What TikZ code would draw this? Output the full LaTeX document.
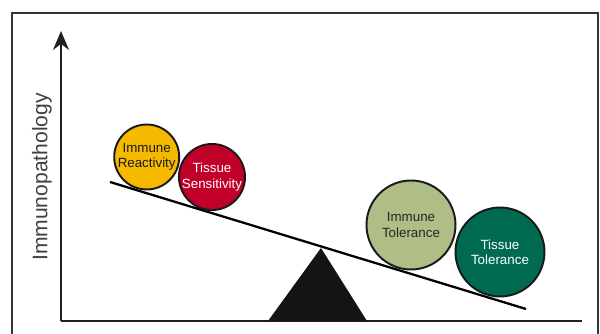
\documentclass[tikz,border=0pt]{standalone}
\usepackage{fontspec}
\setmainfont{Liberation Sans}
\usepackage{xcolor}
\usetikzlibrary{arrows.meta,positioning}

\definecolor{reactyellow}{HTML}{F5BA00}
\definecolor{sensred}{HTML}{C10029}
\definecolor{tolgreen}{HTML}{AEBE86}
\definecolor{tisgreen}{HTML}{006B50}

\begin{document}
\begin{tikzpicture}[x=0.02cm, y=-0.02cm,
    ball/.style={draw=black!90, line width=1.1pt, circle, inner sep=0pt, align=center, font=\fontsize{7.6}{8.8}\selectfont},
    axis/.style={black!88, line width=1pt}]
                \useasboundingbox (0,0) rectangle (600,334);
                \clip (0,0) rectangle (600,334);

                % Frame
                \draw[black!80, line width=1.2pt] (12,13) rectangle (598,360);

                % Axes
                \coordinate (o) at (61,321);
                \coordinate (ytop) at (61,31);
                \coordinate (xend) at (582,321);
                \draw[axis, -{Stealth[length=3.8mm, width=3.2mm]}] (o) -- (ytop);
                \draw[axis] (o) -- (xend);
                \node[rotate=90, font=\fontsize{12}{14}\selectfont, text=black!75] (ylab) at (42,177) {Immunopathology};

                % Fulcrum
                \coordinate (fl) at (268,321);
                \coordinate (ft) at (321,248);
                \coordinate (fr) at (367,321);
                \fill[black!92] (fl) -- (ft) -- (fr) -- cycle;

                % Beam
                \coordinate (bl) at (110,182);
                \coordinate (br) at (526,309);
                \draw[line width=1.3pt] (bl) -- (br);

                % Left side
                \node[ball, fill=reactyellow, minimum size=1.30cm, text=black!90] (react) at (146.7,157) {Immune\\Reactivity};
                \node[ball, fill=sensred, minimum size=1.30cm, text=white] (sens) at (212,177) {Tissue\\Sensitivity};

                % Right side
                \node[ball, fill=tolgreen, minimum size=1.78cm, text=black!85] (imtol) at (411,225) {Immune\\Tolerance};
                \node[ball, fill=tisgreen, minimum size=1.78cm, text=white] (tistol) at (500,252) {Tissue\\Tolerance};
            \end{tikzpicture}
\end{document}
